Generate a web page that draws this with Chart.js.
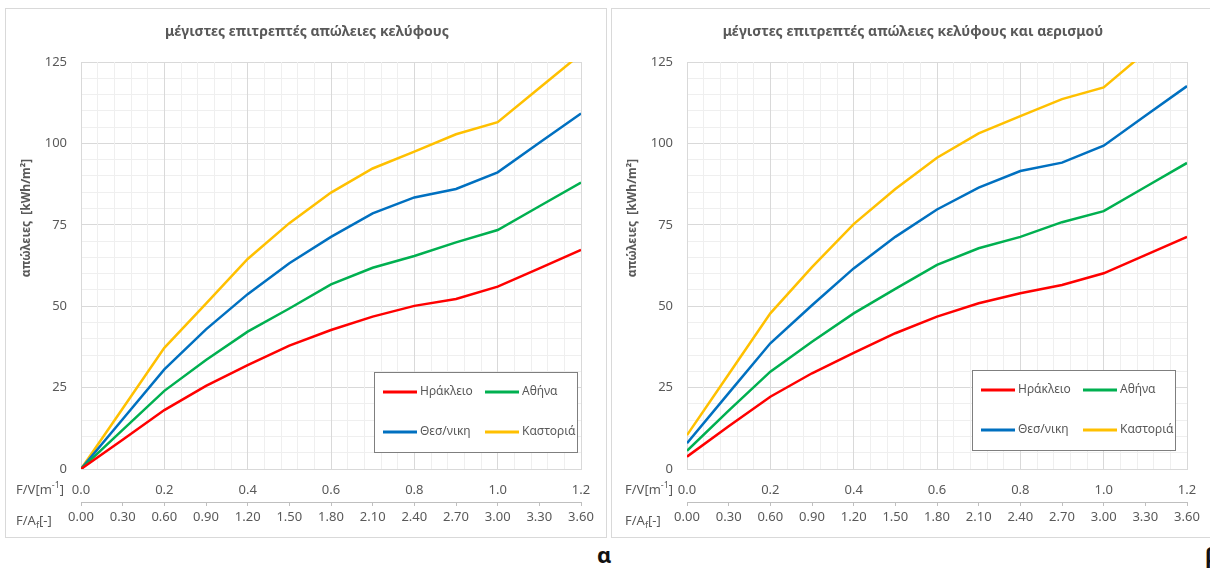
<!DOCTYPE html>
<html>
<head>
<meta charset="utf-8">
<script src="https://cdn.jsdelivr.net/npm/chart.js@4.4.0/dist/chart.umd.min.js"></script>
<style>
body{margin:0;width:1210px;height:571px;overflow:hidden;background:#fff;position:relative;font-family:"Noto Sans",sans-serif;}
.panel{position:absolute;top:8px;width:602px;height:530px;border:1px solid #d9d9d9;box-sizing:border-box;}
.panel canvas{display:block}
#p1{left:5px}
#p2{left:611px}
.lbl{position:absolute;top:539px;font-weight:bold;font-size:22px;color:#111;line-height:30px}
</style>
</head>
<body>
<div class="panel" id="p1"><canvas id="c1" width="600" height="528"></canvas></div>
<div class="panel" id="p2"><canvas id="c2" width="600" height="528"></canvas></div>
<div class="lbl" style="left:597px">α</div>
<div class="lbl" style="left:1205px">β</div>
<script>
// τιμές F/V (m-1) στις οποίες δίνονται οι καμπύλες
const fv = [0, 0.1, 0.2, 0.3, 0.4, 0.5, 0.6, 0.7, 0.8, 0.9, 1.0, 1.1, 1.2]
const poleis = ['Ηράκλειο', 'Αθήνα', 'Θεσ/νικη', 'Καστοριά']
const xromata = ['#FF0000', '#00B050', '#0070C0', '#FFC000']

// α: μόνο κέλυφος
const irakleio1 = [0, 9, 18.1, 25.5, 31.9, 37.9, 42.7, 46.8, 50.1, 52.2, 56, 61.6, 67.3]
const athina1 = [0, 12, 24, 33.5, 42.2, 49.3, 56.7, 61.8, 65.4, 69.6, 73.4, 80.7, 88]
const thess1 = [0, 15.3, 30.6, 42.9, 53.7, 63.2, 71.3, 78.5, 83.4, 86, 91.1, 100.2, 109.2]
const kastoria1 = [0, 18.6, 37.2, 50.8, 64.5, 75.5, 84.9, 92.3, 97.5, 102.8, 106.5, 117, 127.5]

// β: κέλυφος και αερισμός
const irakleio2 = [3.8, 13.1, 22.2, 29.4, 35.7, 41.7, 46.8, 50.9, 54, 56.5, 60.1, 65.7, 71.3]
const athina2 = [5.6, 17.9, 29.9, 39.1, 47.8, 55.3, 62.7, 67.8, 71.3, 75.8, 79.2, 86.6, 94]
const thess2 = [7.9, 23.3, 38.6, 50.3, 61.6, 71.3, 79.7, 86.4, 91.5, 94.1, 99.3, 108.5, 117.6]
const kastoria2 = [10.4, 29.1, 47.8, 62, 75.2, 86, 95.6, 103.1, 108.4, 113.6, 117.2, 128, 139]

// άξονες
const yMax = 125, yMajor = 25, yMinor = 5
const fvMax = 1.2, fvMajor = 0.2, fvMinor = 0.04
const faMax = 3.6, faStep = 0.3
const yTitlos = 'απώλειες  [kWh/m²]'

const GRAY = '#595959'
const FONT = '"Noto Sans", sans-serif'

const seira = (step, min, max) => {
  const t = []
  for (let k = 0; min + k * step <= max + 1e-9; k++) t.push({value: Math.round((min + k * step) * 1e6) / 1e6})
  return t
}
const einaiKyrio = (v, step) => Math.abs(v / step - Math.round(v / step)) < 1e-6

// υπόμνημα μέσα στην περιοχή του γραφήματος
const ypomnima = {
  id: 'ypomnima',
  afterDatasetsDraw(chart, args, opts) {
    const {ctx, chartArea} = chart
    const x0 = Math.round(chartArea.left + opts.left), y0 = Math.round(chartArea.top + opts.top)
    ctx.save()
    ctx.fillStyle = '#fff'
    ctx.fillRect(x0, y0, 203, 80)
    ctx.strokeStyle = '#7f7f7f'
    ctx.lineWidth = 1
    ctx.strokeRect(x0 + 0.5, y0 + 0.5, 203, 80)
    chart.data.datasets.forEach((ds, i) => {
      const cx = x0 + (i % 2 ? 111 : 9)
      const cy = y0 + (i < 2 ? 20 : 60)
      ctx.strokeStyle = ds.borderColor
      ctx.lineWidth = 3
      ctx.beginPath()
      ctx.moveTo(cx, cy)
      ctx.lineTo(cx + 34, cy)
      ctx.stroke()
      ctx.fillStyle = GRAY
      ctx.font = '12px ' + FONT
      ctx.textBaseline = 'middle'
      ctx.fillText(ds.label, cx + 37, cy)
    })
    ctx.restore()
  }
}

// τίτλος, ετικέτες F/V, F/Af και τίτλος του κάθετου άξονα
const etiketes = {
  id: 'etiketes',
  afterDraw(chart, args, opts) {
    const {ctx} = chart
    const x = opts.x
    const y1 = chart.scales.x.top + 21
    const y2 = chart.scales.x2.top + 19
    ctx.save()
    ctx.fillStyle = GRAY
    ctx.textBaseline = 'middle'

    // τίτλος στο κέντρο του καμβά
    ctx.textAlign = 'center'
    ctx.font = 'bold 14px ' + FONT
    ctx.fillText(opts.titlos, chart.width / 2 + 1, 23)
    ctx.textAlign = 'left'

    ctx.font = '13px ' + FONT
    let t = 'F/V[m'
    ctx.fillText(t, x, y1)
    let w = ctx.measureText(t).width
    ctx.font = '9px ' + FONT
    ctx.fillText('-1', x + w, y1 - 5)
    w += ctx.measureText('-1').width
    ctx.font = '13px ' + FONT
    ctx.fillText(']', x + w, y1)
    t = 'F/A'
    ctx.fillText(t, x, y2)
    w = ctx.measureText(t).width
    ctx.font = '9px ' + FONT
    ctx.fillText('f', x + w, y2 + 4)
    w += ctx.measureText('f').width
    ctx.font = '13px ' + FONT
    ctx.fillText('[-]', x + w, y2)

    // ο τίτλος του άξονα y είναι λίγο πάνω από το κέντρο
    ctx.translate(opts.yTitleX, opts.yTitleY)
    ctx.rotate(-Math.PI / 2)
    ctx.textAlign = 'center'
    ctx.font = 'bold 12px ' + FONT
    ctx.fillText(yTitlos, 0, 0)
    ctx.restore()
  }
}

const ftiaxeGrafima = (canvasid, titlos, seires, legendPos, labelX) => {
  const data = {
    datasets: seires.map((s, i) => ({
      label: poleis[i],
      data: fv.map((x, k) => ({x: x, y: s[k]})),
      borderColor: xromata[i],
      backgroundColor: xromata[i],
      borderWidth: 2.5,
      pointRadius: 0,
      tension: 0,
      clip: 0
    }))
  }
  const config = {
    type: 'line',
    data: data,
    plugins: [ypomnima, etiketes],
    options: {
      responsive: false,
      animation: false,
      layout: {padding: {left: 0, right: 25, top: 53, bottom: 0}},
      plugins: {
        legend: {display: false},
        tooltip: {enabled: false},
        title: {display: false},
        ypomnima: legendPos,
        etiketes: {titlos: titlos, x: labelX, yTitleX: 21, yTitleY: 209}
      },
      scales: {
        y: {
          min: 0, max: yMax,
          afterBuildTicks: s => { s.ticks = seira(yMinor, 0, yMax) },
          afterFit: s => { s.width = 75 },
          ticks: {
            autoSkip: false,
            padding: 14,
            color: GRAY,
            font: {family: FONT, size: 13},
            callback: v => einaiKyrio(v, yMajor) ? String(v) : ''
          },
          grid: {
            drawTicks: false,
            color: c => einaiKyrio(c.tick.value, yMajor) ? '#d9d9d9' : '#efefef'
          },
          border: {display: false}
        },
        x: {
          type: 'linear',
          position: 'bottom',
          weight: 0,
          min: 0, max: fvMax,
          afterBuildTicks: s => { s.ticks = seira(fvMinor, 0, fvMax) },
          afterFit: s => { s.height = 33 },
          ticks: {
            autoSkip: false,
            maxRotation: 0,
            padding: 13,
            color: GRAY,
            font: {family: FONT, size: 13},
            callback: v => einaiKyrio(v, fvMajor) ? v.toFixed(1) : ''
          },
          grid: {
            drawTicks: false,
            color: c => einaiKyrio(c.tick.value, fvMajor) ? '#d9d9d9' : '#efefef'
          },
          border: {color: '#d9d9d9'}
        },
        x2: {
          type: 'linear',
          position: 'bottom',
          weight: 1,
          min: 0, max: faMax,
          afterBuildTicks: s => { s.ticks = seira(faStep, 0, faMax) },
          afterFit: s => { s.height = 35 },
          ticks: {
            autoSkip: false,
            maxRotation: 0,
            padding: 3,
            color: GRAY,
            font: {family: FONT, size: 13},
            callback: v => v.toFixed(2)
          },
          grid: {
            drawOnChartArea: false,
            drawTicks: true,
            tickLength: 4,
            color: '#bfbfbf'
          },
          border: {color: '#bfbfbf'}
        }
      }
    }
  }
  return new Chart(document.getElementById(canvasid), config)
}

ftiaxeGrafima('c1', 'μέγιστες επιτρεπτές απώλειες κελύφους',
  [irakleio1, athina1, thess1, kastoria1], {left: 293, top: 310}, 10)
ftiaxeGrafima('c2', 'μέγιστες επιτρεπτές απώλειες κελύφους και αερισμού',
  [irakleio2, athina2, thess2, kastoria2], {left: 285, top: 308}, 13)
</script>
</body>
</html>
